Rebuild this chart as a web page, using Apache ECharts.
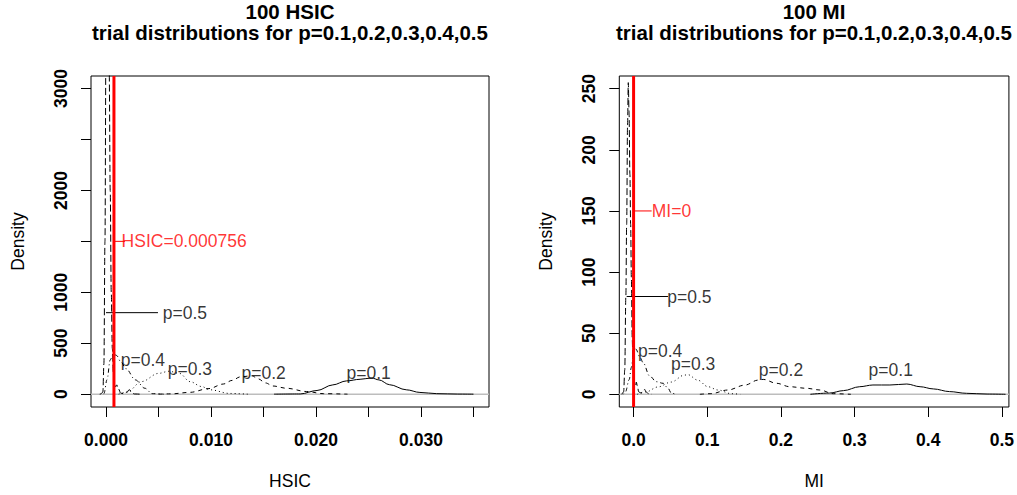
<!DOCTYPE html>
<html>
<head>
<meta charset="utf-8">
<script src="https://cdn.jsdelivr.net/npm/echarts@6/dist/echarts.min.js"></script>
<style>
html, body { margin: 0; padding: 0; background: #fff; }
#main { width: 1017px; height: 495px; }
</style>
</head>
<body>
<div id="main"></div>
<script>
// ---- left panel: HSIC densities ----
var hsicX1 = [0.0160, 0.0185, 0.0201, 0.0216, 0.0229, 0.0242, 0.0253, 0.0260, 0.0270, 0.0286, 0.0299, 0.0315, 0.0335, 0.0350];
var hsicY1 = [0, 2, 36, 91, 130, 146, 159, 140, 93, 43, 17, 5, 1, 0];
var hsicX2 = [0.0050, 0.0062, 0.0080, 0.0098, 0.0112, 0.0120, 0.0128, 0.0139, 0.0145, 0.0152, 0.0159, 0.0172, 0.0191, 0.0207, 0.0230];
var hsicY2 = [0, 3, 18, 55, 100, 135, 170, 180, 150, 110, 80, 58, 26, 5, 0];
var hsicX3 = [0.0012, 0.0020, 0.0034, 0.0050, 0.0060, 0.0070, 0.0080, 0.0091, 0.0099, 0.0118, 0.0135];
var hsicY3 = [0, 20, 124, 204, 225, 204, 123, 75, 43, 7, 0];
var hsicX4 = [-0.0006, -0.0002, 0.0001, 0.0004, 0.0007, 0.0010, 0.0014, 0.0019, 0.0028, 0.0037, 0.0044, 0.0055];
var hsicY4 = [0, 5, 143, 337, 400, 380, 320, 250, 140, 58, 5, 0];
var hsicX5 = [-0.0005, -0.0003, -0.0002, -0.0001, 0.0000, 0.0001, 0.0002, 0.0003, 0.0004, 0.0005, 0.0006, 0.0007, 0.0008, 0.0009, 0.00102, 0.0012, 0.0014, 0.0017, 0.0020, 0.00222, 0.0024, 0.0027, 0.0032];
var hsicY5 = [0, 20, 300, 1500, 3600, 4900, 4800, 3200, 2000, 1000, 450, 200, 90, 70, 91, 50, 10, 3, 20, 45, 20, 2, 0];

var hsicCut = 0.000756;
var hsicLblX = [0.00148, 0.0054, 0.0014, 0.00588, 0.0129, 0.0229];
var hsicLblY = [1500, 800, 335, 250, 206, 206];
var hsicLblText = ['HSIC=0.000756', 'p=0.5', 'p=0.4', 'p=0.3', 'p=0.2', 'p=0.1'];
var hsicSeg5 = [[0, 800], [0.00495, 800]];
var hsicSegRed = [[0.000756, 1500], [0.0018, 1500]];

var hsicXTicks = [0, 0.005, 0.010, 0.015, 0.020, 0.025, 0.030, 0.035];
var hsicXLabels = [0, 0.010, 0.020, 0.030];
var hsicYTicks = [0, 500, 1000, 1500, 2000, 2500, 3000];
var hsicYLabels = [0, 500, 1000, 2000, 3000];

// ---- right panel: MI densities ----
var miX1 = [0.240, 0.266, 0.285, 0.307, 0.325, 0.348, 0.371, 0.389, 0.407, 0.429, 0.452, 0.480, 0.505];
var miY1 = [0, 1, 3, 6.2, 7.6, 7.6, 8.4, 6.2, 4.4, 2.2, 0.8, 0.2, 0];
var miX2 = [0.090, 0.105, 0.128, 0.151, 0.169, 0.176, 0.194, 0.212, 0.235, 0.253, 0.271, 0.295];
var miY2 = [0, 0.5, 3.5, 7.5, 11.6, 12.2, 9, 6.2, 4.9, 3.5, 0.5, 0];
var miX3 = [0.005, 0.017, 0.033, 0.051, 0.069, 0.074, 0.087, 0.101, 0.1145, 0.1326, 0.145];
var miY3 = [0, 2, 6, 10, 15.7, 16, 11.6, 6.2, 3.5, 0.5, 0];
var miX4 = [-0.014, -0.011, -0.006, -0.003, 0.000, 0.003, 0.0087, 0.0128, 0.0218, 0.0308, 0.040, 0.0467, 0.0512, 0.057];
var miY4 = [0, 2, 12, 22, 35, 37, 30.5, 26, 15, 10.3, 9, 5, 1, 0];
var miX5 = [-0.016, -0.0135, -0.012, -0.0105, -0.0094, -0.0082, -0.0072, -0.0062, -0.005, -0.004, -0.003, -0.0018, -0.0008, 0.0010, 0.0025, 0.0037, 0.0050, 0.0070, 0.0100, 0.0130, 0.0150, 0.0170, 0.0200, 0.0250];
var miY5 = [0, 2, 20, 80, 139, 220, 255, 232, 180, 139, 95, 44, 20, 6, 6, 10, 7, 2, 1, 2, 4, 2, 0.5, 0];

var miCut = 0;
var miLblX = [0.0246, 0.0457, 0.006, 0.0507, 0.170, 0.319];
var miLblY = [150, 80, 35.5, 25, 20, 20];
var miLblText = ['MI=0', 'p=0.5', 'p=0.4', 'p=0.3', 'p=0.2', 'p=0.1'];
var miSeg5 = [[-0.0094, 80], [0.0467, 80]];
var miSegRed = [[0, 150], [0.0245, 150]];

var miXTicks = [0, 0.1, 0.2, 0.3, 0.4, 0.5];
var miXLabels = [0, 0.1, 0.2, 0.3, 0.4, 0.5];
var miYTicks = [0, 50, 100, 150, 200, 250];
var miYLabels = [0, 50, 100, 150, 200, 250];

var FONT = "'Liberation Sans', Arial, Helvetica, sans-serif";
// R lty: solid, dashed, dotted, dotdash, longdash
var LTY = ['solid', [4, 4], [1, 3], [1, 3, 4, 3], [7, 3]];

function pairs(xs, ys) {
  return xs.map(function (x, i) { return [x, ys[i]]; });
}

function panelSeries(idx, curves, cut, yr, xr, seg5, segRed, lx, ly, lt) {
  var s = [];
  // gray zero line
  s.push({
    type: 'line', xAxisIndex: idx, yAxisIndex: idx, data: [[xr[0], 0], [xr[1], 0]],
    symbol: 'none', lineStyle: { color: '#bdbdbd', width: 1.5 }, z: 1, silent: true
  });
  curves.forEach(function (c, i) {
    s.push({
      type: 'line', xAxisIndex: idx, yAxisIndex: idx, data: pairs(c[0], c[1]),
      symbol: 'none', smooth: 0.35, smoothMonotone: 'x',
      lineStyle: { color: '#000', width: 1, type: LTY[i] }, z: 2, silent: true
    });
  });
  [seg5, segRed].forEach(function (sg, i) {
    s.push({
      type: 'line', xAxisIndex: idx, yAxisIndex: idx, data: sg, symbol: 'none',
      lineStyle: { color: i ? '#ff0000' : '#000', width: 1 }, z: 3, silent: true
    });
  });
  // red cutoff line
  s.push({
    type: 'line', xAxisIndex: idx, yAxisIndex: idx, data: [[cut, yr[0]], [cut, yr[1]]],
    symbol: 'none', lineStyle: { color: '#ff0000', width: 3 }, z: 4, silent: true
  });
  s.push({
    type: 'scatter', xAxisIndex: idx, yAxisIndex: idx, symbolSize: 0.1,
    itemStyle: { color: 'transparent' }, z: 5, silent: true,
    data: lx.map(function (x, i) {
      return { value: [x, ly[i]], label: { color: i === 0 ? '#ff0000' : '#000' } };
    }),
    label: {
      show: true, position: 'right', distance: 0, fontSize: 17.5, fontFamily: FONT,
      formatter: function (p) { return lt[p.dataIndex]; }
    }
  });
  return s;
}

function xAxisCfg(idx, min, max, ticks, labels, dec, name) {
  return {
    type: 'value', gridIndex: idx, min: min, max: max, name: name,
    nameLocation: 'middle', nameGap: 65,
    nameTextStyle: { fontSize: 17.5, fontFamily: FONT, color: '#000' },
    axisLine: { show: false, onZero: false }, splitLine: { show: false },
    axisTick: { show: true, length: 10, customValues: ticks, lineStyle: { color: '#000', width: 1 } },
    axisLabel: {
      customValues: labels, margin: 24, fontSize: 17.5, fontWeight: 'bold', fontFamily: FONT, color: '#000',
      formatter: function (v) { return v.toFixed(dec); }
    }
  };
}

function yAxisCfg(idx, min, max, ticks, labels) {
  return {
    type: 'value', gridIndex: idx, min: min, max: max, name: 'Density',
    nameLocation: 'middle', nameGap: 64,
    nameTextStyle: { fontSize: 17.5, fontFamily: FONT, color: '#000' },
    axisLine: { show: false, onZero: false }, splitLine: { show: false },
    axisTick: { show: true, length: 10, customValues: ticks, lineStyle: { color: '#000', width: 1 } },
    axisLabel: {
      customValues: labels, rotate: 90, margin: 21, fontSize: 17.5, fontWeight: 'bold', fontFamily: FONT, color: '#000',
      formatter: function (v) { return String(v); }
    }
  };
}

var hsicXR = [-0.00143, 0.03648], hsicYR = [-126, 3123];
var miXR = [-0.0194, 0.5096], miYR = [-10.4, 260.4];

var chart = echarts.init(document.getElementById('main'), null, { renderer: 'svg' });

var series = [].concat(
  panelSeries(0, [[hsicX1, hsicY1], [hsicX2, hsicY2], [hsicX3, hsicY3], [hsicX4, hsicY4], [hsicX5, hsicY5]],
    hsicCut, hsicYR, hsicXR, hsicSeg5, hsicSegRed, hsicLblX, hsicLblY, hsicLblText),
  panelSeries(1, [[miX1, miY1], [miX2, miY2], [miX3, miY3], [miX4, miY4], [miX5, miY5]],
    miCut, miYR, miXR, miSeg5, miSegRed, miLblX, miLblY, miLblText)
);

function titleText(x, y, txt) {
  return {
    type: 'text', x: x, y: y, silent: true,
    style: {
      text: txt, fill: '#000', font: 'bold 20.5px ' + FONT,
      align: 'center', verticalAlign: 'middle', textAlign: 'center', textVerticalAlign: 'middle'
    }
  };
}

chart.setOption({
  animation: false,
  backgroundColor: '#fff',
  grid: [
    { left: 91, top: 76, width: 398, height: 334.7, show: true, borderColor: '#000', borderWidth: 1, backgroundColor: 'transparent' },
    { left: 619.3, top: 76, width: 390, height: 334.7, show: true, borderColor: '#000', borderWidth: 1, backgroundColor: 'transparent' }
  ],
  xAxis: [
    xAxisCfg(0, hsicXR[0], hsicXR[1], hsicXTicks, hsicXLabels, 3, 'HSIC'),
    xAxisCfg(1, miXR[0], miXR[1], miXTicks, miXLabels, 1, 'MI')
  ],
  yAxis: [
    yAxisCfg(0, hsicYR[0], hsicYR[1], hsicYTicks, hsicYLabels),
    yAxisCfg(1, miYR[0], miYR[1], miYTicks, miYLabels)
  ],
  graphic: [
    titleText(290, 11, '100 HSIC'),
    titleText(290, 32, 'trial distributions for p=0.1,0.2,0.3,0.4,0.5'),
    titleText(814, 11, '100 MI'),
    titleText(814, 32, 'trial distributions for p=0.1,0.2,0.3,0.4,0.5')
  ],
  series: series
});
</script>
</body>
</html>
